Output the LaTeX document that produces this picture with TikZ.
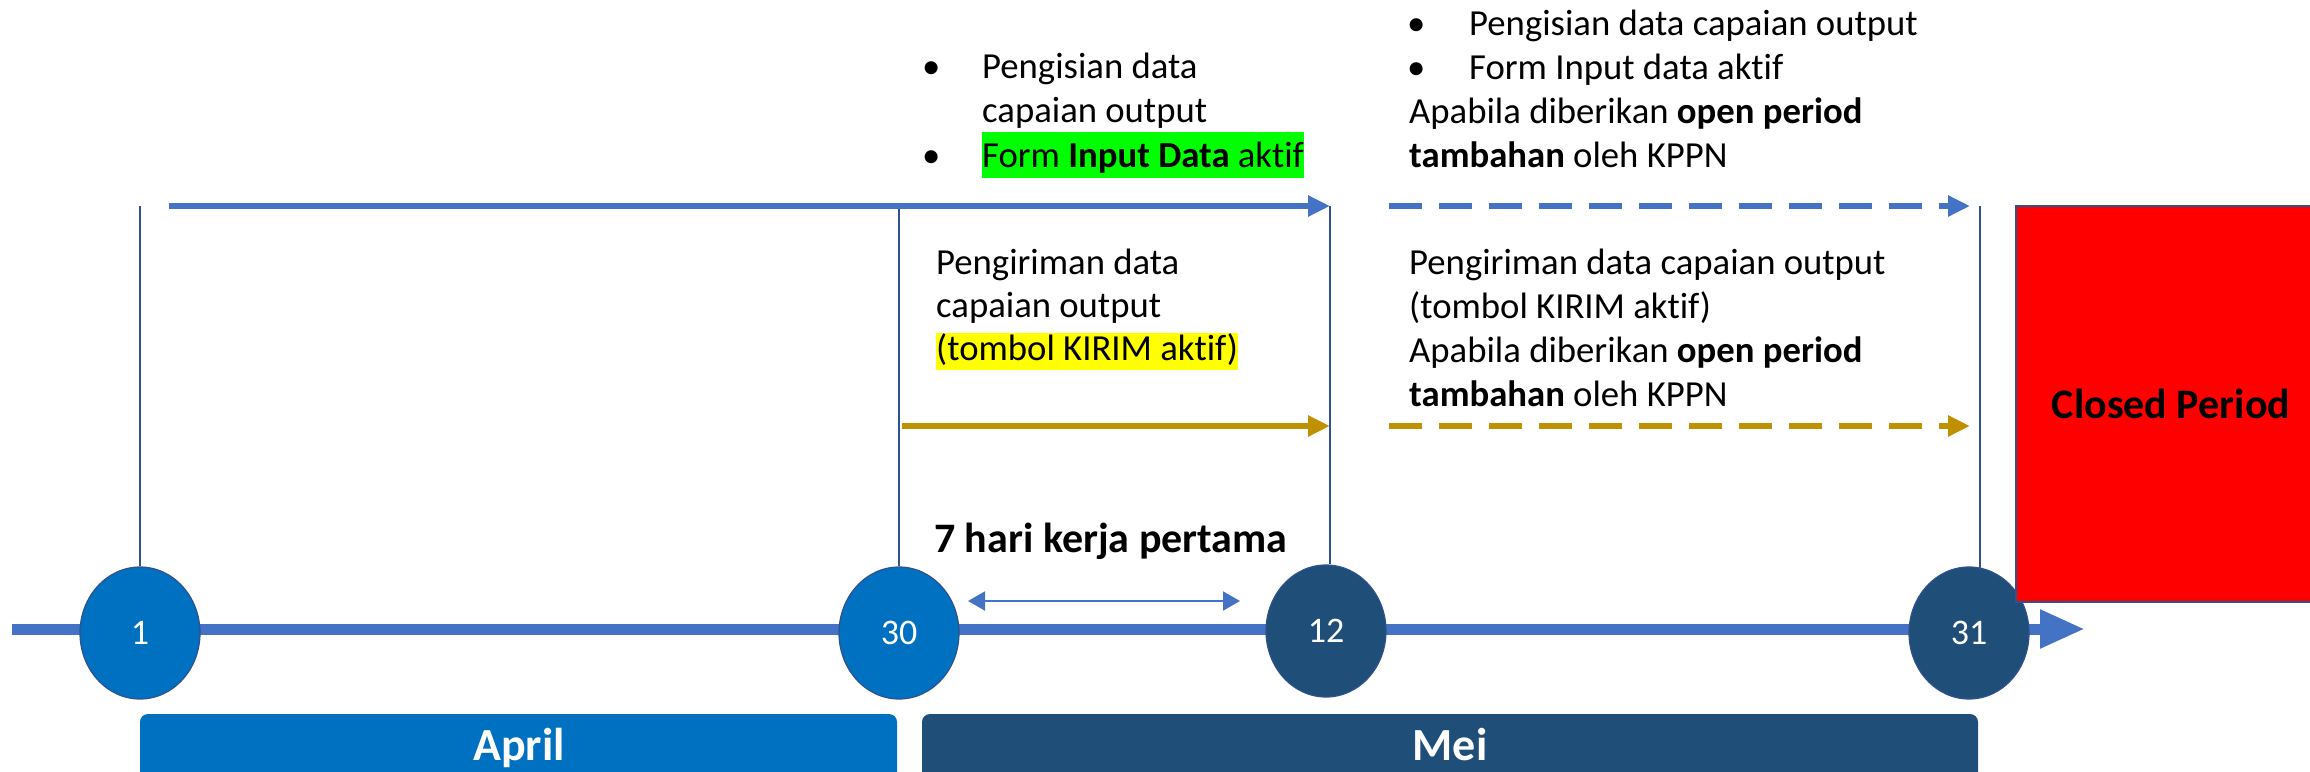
\documentclass[tikz,border=0pt]{standalone}
\usepackage{fontspec}
\setmainfont[RawFeature=-liga]{Carlito}
\usetikzlibrary{arrows.meta,shapes.geometric}
\definecolor{axisblue}{HTML}{4472C4}
\definecolor{lightcirc}{HTML}{0070C0}
\definecolor{darkcirc}{HTML}{1F4E79}
\definecolor{thinline}{HTML}{2F528F}
\definecolor{goldc}{HTML}{BF9000}
\definecolor{hlgreen}{HTML}{00FF00}
\definecolor{hlyellow}{HTML}{FFFF00}
\definecolor{redbox}{HTML}{FF0000}
\newcommand\hlbox[4]{{\setlength{\fboxsep}{0pt}\colorbox{#1}{\rule[-#2]{0pt}{#3}#4}}}
\begin{document}
\begin{tikzpicture}[x=1pt,y=-1pt,
  txt/.style={anchor=base west, inner sep=0pt, font=\fontsize{36.7}{44}\selectfont},
  daycirc/.style={ellipse, draw=thinline, line width=1.2pt, minimum width=120pt, minimum height=132pt, inner sep=0pt, text=white, font=\fontsize{36}{42}\selectfont},
  vline/.style={draw=thinline, line width=1.6pt},
  toparrow/.style={draw=axisblue, line width=6pt, -{Triangle[length=22pt,width=20pt]}},
  goldarrow/.style={draw=goldc, line width=6pt, -{Triangle[length=22pt,width=20pt]}},
  dashpat/.style={dash pattern=on 33pt off 17pt},
  monthbox/.style={rounded corners=8pt, draw=none},
  monthtxt/.style={anchor=base, text=white, font=\bfseries\fontsize{46}{54}\selectfont, inner sep=0pt}]
\useasboundingbox (0,0) rectangle (2310,771);
\clip (0,0) rectangle (2310,771);

% main axis
\coordinate (axS) at (12,629);
\coordinate (axE) at (2085,629);
\draw[draw=axisblue, line width=11pt, -{Triangle[length=45pt,width=36pt]}] (axS) -- (axE);

% vertical line tops
\coordinate (v1) at (140,206);
\coordinate (v30) at (899,206);
\coordinate (v12) at (1330,206);
\coordinate (v31) at (1980,206);

% day circles
\node[daycirc, fill=lightcirc] (c1) at (140,633) {1};
\node[daycirc, fill=lightcirc] (c30) at (899,633) {30};
\node[daycirc, fill=darkcirc] (c12) at (1326,631) {12};
\node[daycirc, fill=darkcirc] (c31) at (1969,633) {31};

\draw[vline] (v1) -- (c1.north);
\draw[vline] (v30) -- (c30.north);
\draw[vline] (v12) -- (v12 |- c12.north);
\draw[vline] (v31) -- (1980,570);

% top blue arrows
\coordinate (tbS) at (169,206);
\draw[toparrow] (tbS) -- (v12);
\coordinate (tdS) at (1389,206);
\coordinate (tdE) at (1970,206);
\draw[toparrow, dashpat] (tdS) -- (tdE);

% gold arrows
\coordinate (gS) at (902,426);
\coordinate (gE) at (1330,426);
\draw[goldarrow] (gS) -- (gE);
\coordinate (gdS) at (1389,426);
\coordinate (gdE) at (1970,426);
\draw[goldarrow, dashpat] (gdS) -- (gdE);

% double arrow
\coordinate (dS) at (968,601);
\coordinate (dE) at (1240,601);
\draw[draw=axisblue, line width=2pt, {Triangle[length=17pt,width=19pt]}-{Triangle[length=17pt,width=19pt]}] (dS) -- (dE);

% 7 hari kerja pertama
\node[anchor=base west, inner sep=0pt, font=\bfseries\fontsize{42}{50}\selectfont] (hari) at (934,552) {7 hari kerja pertama};

% top middle text
\node[txt] (tmb1) at (922,78) {\textbullet};
\node[txt] (tm1) at (982,78) {Pengisian data};
\node[txt] (tm2) at (982,122) {capaian output};
\node[txt] (tmb3) at (922,167) {\textbullet};
\node[txt] (tm3) at (982,167) {\hlbox{hlgreen}{11pt}{46pt}{Form \textbf{Input Data} aktif}};

% top right text
\node[txt] (trb1) at (1407,35) {\textbullet};
\node[txt] (tr1) at (1469,35) {Pengisian data capaian output};
\node[txt] (trb2) at (1407,79) {\textbullet};
\node[txt] (tr2) at (1469,79) {Form Input data aktif};
\node[txt] (tr3) at (1409,123) {Apabila diberikan \textbf{open period}};
\node[txt] (tr4) at (1409,167) {\textbf{tambahan} oleh KPPN};

% middle text
\node[txt] (mm1) at (936,274) {Pengiriman data};
\node[txt] (mm2) at (936,317) {capaian output};
\node[txt] (mm3) at (936,360) {\hlbox{hlyellow}{10pt}{37pt}{(tombol KIRIM aktif)}};

% right middle text
\node[txt] (rm1) at (1409,274) {Pengiriman data capaian output};
\node[txt] (rm2) at (1409,318) {(tombol KIRIM aktif)};
\node[txt] (rm3) at (1409,362) {Apabila diberikan \textbf{open period}};
\node[txt] (rm4) at (1409,406) {\textbf{tambahan} oleh KPPN};

% closed period
\path[fill=redbox, draw=thinline, line width=1.5pt] (2016,206) rectangle (2340,602);
\node[font=\bfseries\fontsize{42}{50}\selectfont, inner sep=0pt] (closed) at (2171,404) {Closed Period};

% month boxes
\path[monthbox, fill=lightcirc] (140,714) rectangle (897,800);
\node[monthtxt] (april) at (519,760) {April};
\path[monthbox, fill=darkcirc] (922,714) rectangle (1978,800);
\node[monthtxt] (mei) at (1450,760) {Mei};
\end{tikzpicture}
\end{document}
